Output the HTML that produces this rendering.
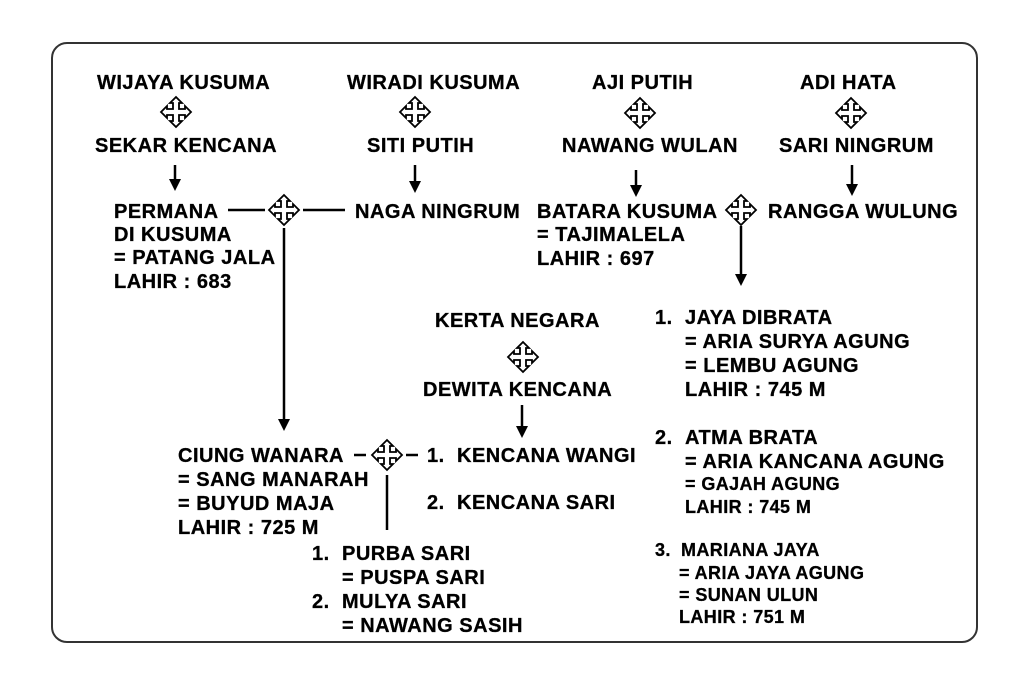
<!DOCTYPE html>
<html><head><meta charset="utf-8"><style>
html,body{margin:0;padding:0;background:#fff;}
svg{display:block;}
text{font-family:"Liberation Sans",Arial,sans-serif;font-weight:bold;font-size:20px;letter-spacing:0.5px;fill:#000;stroke:#000;stroke-width:0.3;}
.s{font-size:18px;letter-spacing:0.4px;}
</style></head><body>
<svg width="1024" height="687" viewBox="0 0 1024 687" xmlns="http://www.w3.org/2000/svg">
<defs>
<symbol id="c" overflow="visible"><path d="M-3,-3 L-3,-9 L-6,-9 L0,-15 L6,-9 L3,-9 L3,-3 L9,-3 L9,-6 L15,0 L9,6 L9,3 L3,3 L3,9 L6,9 L0,15 L-6,9 L-3,9 L-3,3 L-9,3 L-9,6 L-15,0 L-9,-6 L-9,-3 Z" fill="#fff" stroke="#000" stroke-width="1.8" stroke-linejoin="miter"/></symbol>
</defs>
<rect x="52" y="43" width="925" height="599" rx="15" fill="none" stroke="#333" stroke-width="2"/>
<g stroke="#000" stroke-width="2.5" fill="none">
<line x1="175" y1="165" x2="175" y2="180"/>
<line x1="415" y1="165" x2="415" y2="182"/>
<line x1="636" y1="170" x2="636" y2="186"/>
<line x1="852" y1="165" x2="852" y2="185"/>
<line x1="228" y1="210" x2="265" y2="210"/>
<line x1="303" y1="210" x2="345" y2="210"/>
<line x1="284" y1="228" x2="284" y2="420"/>
<line x1="741" y1="226" x2="741" y2="275"/>
<line x1="522" y1="405" x2="522" y2="427"/>
<line x1="354" y1="455" x2="366" y2="455"/>
<line x1="406" y1="455" x2="418" y2="455"/>
<line x1="387" y1="475" x2="387" y2="530"/>
</g>
<g fill="#000">
<path d="M169,179 L181,179 L175,191 Z"/>
<path d="M409,181 L421,181 L415,193 Z"/>
<path d="M630,185 L642,185 L636,197 Z"/>
<path d="M846,184 L858,184 L852,196 Z"/>
<path d="M278,419 L290,419 L284,431 Z"/>
<path d="M735,274 L747,274 L741,286 Z"/>
<path d="M516,426 L528,426 L522,438 Z"/>
</g>
<use href="#c" x="176" y="112"/>
<use href="#c" x="415" y="112"/>
<use href="#c" x="640" y="113"/>
<use href="#c" x="851" y="113"/>
<use href="#c" x="284" y="210"/>
<use href="#c" x="741" y="210"/>
<use href="#c" x="523" y="357"/>
<use href="#c" x="387" y="455"/>
<text x="97" y="89">WIJAYA KUSUMA</text>
<text x="95" y="152">SEKAR KENCANA</text>
<text x="347" y="89">WIRADI KUSUMA</text>
<text x="367" y="152">SITI PUTIH</text>
<text x="592" y="89">AJI PUTIH</text>
<text x="562" y="152">NAWANG WULAN</text>
<text x="800" y="89">ADI HATA</text>
<text x="779" y="152">SARI NINGRUM</text>
<text x="114" y="218">PERMANA</text>
<text x="114" y="241">DI KUSUMA</text>
<text x="114" y="264">= PATANG JALA</text>
<text x="114" y="288">LAHIR : 683</text>
<text x="355" y="218">NAGA NINGRUM</text>
<text x="537" y="218">BATARA KUSUMA</text>
<text x="537" y="241">= TAJIMALELA</text>
<text x="537" y="265">LAHIR : 697</text>
<text x="768" y="218">RANGGA WULUNG</text>
<text x="435" y="327">KERTA NEGARA</text>
<text x="423" y="396">DEWITA KENCANA</text>
<text x="655" y="324">1.</text><text x="685" y="324">JAYA DIBRATA</text>
<text x="685" y="348">= ARIA SURYA AGUNG</text>
<text x="685" y="372">= LEMBU AGUNG</text>
<text x="685" y="396">LAHIR : 745 M</text>
<text x="655" y="444">2.</text><text x="685" y="444">ATMA BRATA</text>
<text x="685" y="468">= ARIA KANCANA AGUNG</text>
<text class="s" x="685" y="490">= GAJAH AGUNG</text>
<text class="s" x="685" y="513">LAHIR : 745 M</text>
<text class="s" x="655" y="556">3.</text><text class="s" x="681" y="556">MARIANA JAYA</text>
<text class="s" x="679" y="579">= ARIA JAYA AGUNG</text>
<text class="s" x="679" y="601">= SUNAN ULUN</text>
<text class="s" x="679" y="623">LAHIR : 751 M</text>
<text x="178" y="462">CIUNG WANARA</text>
<text x="178" y="486">= SANG MANARAH</text>
<text x="178" y="510">= BUYUD MAJA</text>
<text x="178" y="534">LAHIR : 725 M</text>
<text x="427" y="462">1.</text><text x="457" y="462">KENCANA WANGI</text>
<text x="427" y="509">2.</text><text x="457" y="509">KENCANA SARI</text>
<text x="312" y="560">1.</text><text x="342" y="560">PURBA SARI</text>
<text x="342" y="584">= PUSPA SARI</text>
<text x="312" y="608">2.</text><text x="342" y="608">MULYA SARI</text>
<text x="342" y="632">= NAWANG SASIH</text>
</svg>
</body></html>
